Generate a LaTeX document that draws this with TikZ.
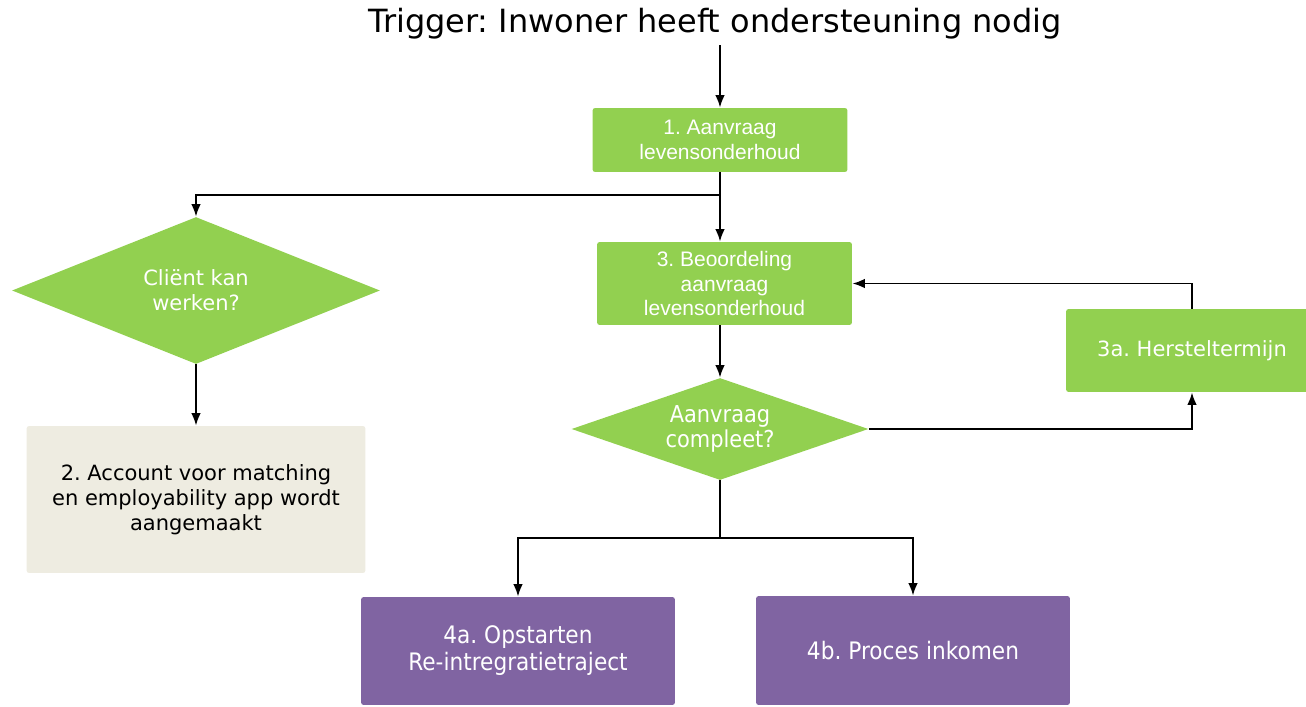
\documentclass[tikz,border=0pt]{standalone}
\usepackage{fontspec}
\setmainfont{DejaVu Sans}
\newfontfamily\arialfont{Liberation Sans}
\newfontfamily\smalfont[FakeStretch=0.9]{DejaVu Sans}
\usetikzlibrary{shapes.geometric, arrows.meta}
\definecolor{stapgroen}{HTML}{92D050}
\definecolor{stappaars}{HTML}{8064A2}
\definecolor{stapbeige}{HTML}{EEECE1}
\frenchspacing
\tikzset{
  groenstap/.style={rectangle, fill=stapgroen, text=white, rounded corners=1.5pt, inner sep=0pt, align=center},
  paarsstap/.style={rectangle, fill=stappaars, text=white, rounded corners=1.5pt, inner sep=0pt, align=center, font=\smalfont\fontsize{13.7}{15.3}\selectfont},
  beigestap/.style={rectangle, fill=stapbeige, text=black, rounded corners=1.5pt, inner sep=0pt, align=center},
  keuze/.style={diamond, fill=stapgroen, text=white, inner sep=0pt, align=center},
  pijl/.style={-{Latex[length=2.5mm, width=1.9mm]}, line width=1.1pt}
}

\begin{document}
\begin{tikzpicture}[x=0.02cm, y=-0.02cm, font=\fontsize{11.95}{14.2}\selectfont]
    \useasboundingbox (0,0) rectangle (1306,707);
    \node (trigger) at (715,32) [anchor=base, inner sep=0pt, font=\fontsize{18.2}{21}\selectfont] {Trigger: Inwoner heeft ondersteuning nodig};
    \coordinate (start) at (720,45);
    \node (aanvraag) at (720,140) [groenstap, minimum width=5.1cm, minimum height=1.28cm, font=\arialfont\fontsize{11.95}{14.2}\selectfont] {1. Aanvraag\\levensonderhoud};
    \node (beoordeling) at (724.5,283.5) [groenstap, minimum width=5.1cm, minimum height=1.66cm, font=\arialfont\fontsize{11.95}{14.2}\selectfont] {3. Beoordeling\\aanvraag\\levensonderhoud};
    \node (compleet) at (720,429) [keuze, shape aspect=2.9, minimum width=5.94cm, minimum height=2.04cm, font=\smalfont\fontsize{13.25}{14}\selectfont] {Aanvraag\\compleet?};
    \node (herstel) at (1192,350.5) [groenstap, minimum width=5.04cm, minimum height=1.66cm] {3a. Hersteltermijn};
    \node (werken) at (196,290.5) [keuze, shape aspect=2.5, minimum width=7.36cm, minimum height=2.94cm] {Cliënt kan\\werken?};
    \node (account) at (196,499.5) [beigestap, minimum width=6.78cm, minimum height=2.94cm] {2. Account voor matching\\en employability app wordt\\aangemaakt};
    \node (opstarten) at (518,651) [paarsstap, minimum width=6.28cm, minimum height=2.16cm] {4a. Opstarten\\Re-intregratietraject};
    \node (inkomen) at (913,650.5) [paarsstap, minimum width=6.28cm, minimum height=2.18cm] {4b. Proces inkomen};
    \coordinate (splitsboven) at (720,195);
    \coordinate (splitsonder) at (720,538);
    \draw[pijl] (start) -- (aanvraag.north);
    \draw[pijl] (aanvraag.south) -- (aanvraag.south |- beoordeling.north);
    \draw[pijl] (splitsboven) -| (werken.north);
    \draw[pijl] (werken.south) -- (account.north);
    \draw[pijl] (aanvraag.south |- beoordeling.south) -- (compleet.north);
    \draw[pijl] (compleet.east) -| (herstel.south);
    \draw[pijl] (herstel.north) |- (beoordeling.east);
    \draw[line width=1.1pt] (compleet.south) -- (splitsonder);
    \draw[pijl] (splitsonder) -| (opstarten.north);
    \draw[pijl] (splitsonder) -| (inkomen.north);
\end{tikzpicture}
\end{document}
